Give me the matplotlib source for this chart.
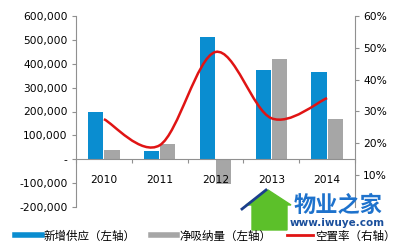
import matplotlib.pyplot as plt
import numpy as np
from matplotlib.path import Path
from matplotlib.patches import PathPatch, Polygon
from matplotlib.lines import Line2D
from matplotlib.ticker import FuncFormatter

plt.rcParams['font.family'] = ['DejaVu Sans', 'Noto Sans CJK SC']

years = ["2010", "2011", "2012", "2013", "2014"]
supply = [200000, 34000, 513000, 374000, 366000]
absorption = [38000, 63000, -105000, 420000, 168000]
vacancy = [0.276, 0.194, 0.487, 0.279, 0.342]

BLUE = '#0A8DD0'
GRAY = '#A6A6A6'
RED = '#E01414'
AXC = '#909090'

fig = plt.figure(figsize=(4.01, 2.46), dpi=100)
ax = fig.add_axes([76/401, 1-207/246, (355-76)/401, (207-16)/246])
ax.set_axisbelow(False)
ax2 = ax.twinx()

x = np.arange(len(years))
w = 0.27
ax.bar(x - w/2 - 0.01, supply, w, color=BLUE, zorder=1)
ax.bar(x + w/2 + 0.01, absorption, w, color=GRAY, zorder=1)

ax.set_xlim(-0.5, 4.5)
ax.set_ylim(-200000, 600000)
ax.set_yticks(np.arange(-200000, 600001, 100000))
ax.yaxis.set_major_formatter(FuncFormatter(lambda v, p: '-' if v == 0 else '{:,.0f}'.format(v)))

for s in ['top', 'right']:
    ax.spines[s].set_visible(False)
ax.spines['left'].set_color(AXC)
ax.spines['bottom'].set_position(('data', 0))
ax.spines['bottom'].set_color(AXC)
ax.set_xticks(np.arange(-0.5, 4.6, 1))
ax.set_xticklabels([])
ax.set_xticks(x, minor=True)
ax.set_xticklabels(years, minor=True)
ax.tick_params(axis='x', which='major', length=3, direction='out', color=AXC)
ax.tick_params(axis='x', which='minor', length=0, pad=11, labelsize=7.7)
ax.tick_params(axis='y', length=3, color=AXC, labelsize=7.7, pad=3)

# smoothed vacancy line (bezier through data points)
pts = np.column_stack([x, vacancy])
verts = [pts[0]]
codes = [Path.MOVETO]
for i in range(len(pts) - 1):
    p0 = pts[i - 1] if i > 0 else pts[i]
    p1, p2 = pts[i], pts[i + 1]
    p3 = pts[i + 2] if i + 2 < len(pts) else pts[i + 1]
    verts += [p1 + (p2 - p0) / 6, p2 - (p3 - p1) / 6, p2]
    codes += [Path.CURVE4] * 3
ax2.add_patch(PathPatch(Path(verts, codes), fill=False, edgecolor=RED, lw=1.8, zorder=3))

ax2.set_ylim(0, 0.6)
ax2.set_yticks(np.arange(0.1, 0.61, 0.1))
ax2.yaxis.set_major_formatter(FuncFormatter(lambda v, p: '{:.0f}%'.format(v * 100)))
ax2.tick_params(axis='y', length=3, color=AXC, labelsize=7.7, pad=3)
for s in ['top', 'left', 'bottom']:
    ax2.spines[s].set_visible(False)
ax2.spines['right'].set_color(AXC)

handles = [Line2D([], [], color=BLUE, lw=4),
           Line2D([], [], color=GRAY, lw=4),
           Line2D([], [], color=RED, lw=2)]
labels = ["新增供应（左轴）", "净吸纳量（左轴）", "空置率（右轴）"]
fig.legend(handles, labels, loc='center', bbox_to_anchor=(0.5 + 5/401, 1-236/246), ncol=3,
           frameon=False, fontsize=8.3, handlelength=2.3, handletextpad=0.2,
           columnspacing=1.3, borderaxespad=0)

# watermark
def fx(px):
    return px / 401

def fy(py):
    return 1 - py / 246

house = [[252, 230], [252, 205], [246, 205], [268, 190], [291, 205], [287, 205], [287, 230]]
fig.patches.append(Polygon([[fx(a), fy(b)] for a, b in house], closed=True,
                           transform=fig.transFigure, color='#5CC02A', zorder=5))
fig.lines.append(Line2D([fx(242), fx(266)], [fy(209), fy(190)], color='#1A3F8C', lw=2,
                        transform=fig.transFigure, zorder=6))
fig.text(fx(338), fy(205), "物业之家", color='#1E72CC', fontsize=16, fontweight='bold',
         ha='center', va='center', zorder=6)
fig.text(fx(337), fy(223), "www.iwuye.com", color='#1A4F9C', fontsize=7.5, fontweight='bold',
         ha='center', va='center', zorder=6)

fig.savefig('out.png', dpi=100)
